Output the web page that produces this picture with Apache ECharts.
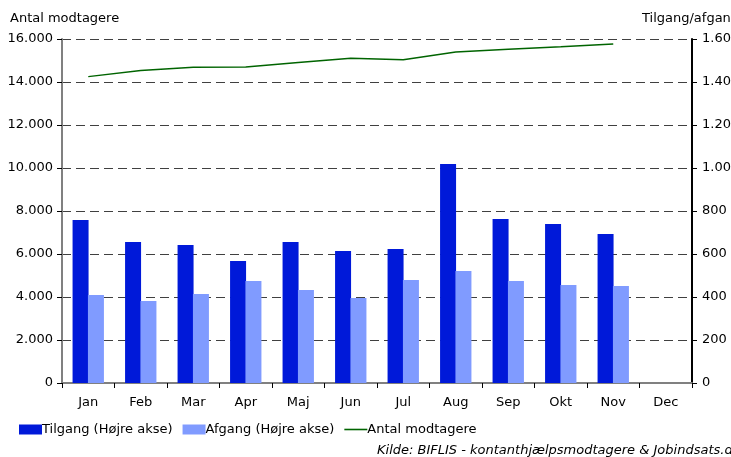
<!DOCTYPE html>
<html><head><meta charset="utf-8">
<script src="https://cdn.jsdelivr.net/npm/echarts@6/dist/echarts.min.js"></script>
<style>html,body{margin:0;padding:0;background:#fff}#c{width:731px;height:457px}</style>
</head><body><div id="c"></div>
<script>
const categories = ['Jan','Feb','Mar','Apr','Maj','Jun','Jul','Aug','Sep','Okt','Nov','Dec'];
const tilgang = [758, 656, 642, 567, 656, 614, 623, 1019, 763, 740, 693, null];
const afgang = [409, 381, 414, 474, 433, 395, 479, 521, 474, 456, 451, null];
const antal = [14250, 14540, 14690, 14700, 14910, 15110, 15040, 15390, 15520, 15640, 15770, null];
const leftName = 'Antal modtagere';
const rightName = 'Tilgang/afgang';
const source = 'Kilde: BIFLIS - kontanthjælpsmodtagere & Jobindsats.dk';

const fmt = v => {
  const s = String(Math.round(v));
  return s.replace(/\B(?=(\d{3})+(?!\d))/g, '.');
};
const F = 'DejaVu Sans, Verdana, sans-serif';
const FS = 13;
const chart = echarts.init(document.getElementById('c'));
chart.setOption({
  animation: false,
  textStyle: {fontFamily: F},
  grid: {left: 62, right: 39, top: 39, bottom: 74, outerBoundsMode: 'none', containLabel: false},
  legend: {
    left: 14, top: 418, itemWidth: 23, itemHeight: 10, itemGap: 10,
    textStyle: {fontFamily: F, fontSize: FS, color: '#000', padding: [0, 0, 0, -5]},
    data: [
      {name: 'Tilgang (Højre akse)', icon: 'rect'},
      {name: 'Afgang (Højre akse)', icon: 'rect'},
      {name: 'Antal modtagere', icon: 'path://M0,4 H23 V5.6 H0 Z', itemStyle: {color: '#006400'}}
    ]
  },
  graphic: [
    {type: 'text', left: 10, top: 12, style: {text: leftName, font: FS + 'px ' + F, fill: '#000'}},
    {type: 'text', left: 642, top: 12, style: {text: rightName, font: FS + 'px ' + F, fill: '#000'}},
    {type: 'text', left: 377, top: 444, style: {text: source, font: 'italic ' + FS + 'px ' + F, fill: '#000'}}
  ],
  xAxis: {
    type: 'category', data: categories,
    axisLine: {lineStyle: {color: '#808080', width: 2}},
    axisTick: {show: true, lineStyle: {color: '#000'}, length: 5},
    axisLabel: {color: '#000', fontSize: FS, margin: 13, fontFamily: F}
  },
  yAxis: [
    {
      type: 'value', min: 0, max: 16000, interval: 2000, position: 'left',
      axisLine: {show: true, lineStyle: {color: '#808080', width: 2}},
      axisTick: {show: true, inside: false, length: 5, lineStyle: {color: '#000'}},
      axisLabel: {color: '#000', fontSize: FS, formatter: fmt, margin: 9, fontFamily: F},
      splitLine: {show: true, lineStyle: {color: '#404040', type: [9, 5], width: 1}}
    },
    {
      type: 'value', min: 0, max: 1600, interval: 200, position: 'right',
      axisLine: {show: true, lineStyle: {color: '#000', width: 2}},
      axisTick: {show: true, length: 5, lineStyle: {color: '#000'}},
      axisLabel: {color: '#000', fontSize: FS, formatter: fmt, margin: 10, fontFamily: F},
      splitLine: {show: false}
    }
  ],
  series: [
    {name: 'Tilgang (Højre akse)', type: 'bar', yAxisIndex: 1, data: tilgang, barWidth: 16, barGap: '-4%',
     itemStyle: {color: '#0019D9'}},
    {name: 'Afgang (Højre akse)', type: 'bar', yAxisIndex: 1, data: afgang, barWidth: 16, barGap: '-4%',
     itemStyle: {color: '#809BFF'}},
    {name: 'Antal modtagere', type: 'line', yAxisIndex: 0, data: antal, symbol: 'none',
     lineStyle: {color: '#006400', width: 1.5}, itemStyle: {color: '#006400'}}
  ]
});
</script></body></html>
